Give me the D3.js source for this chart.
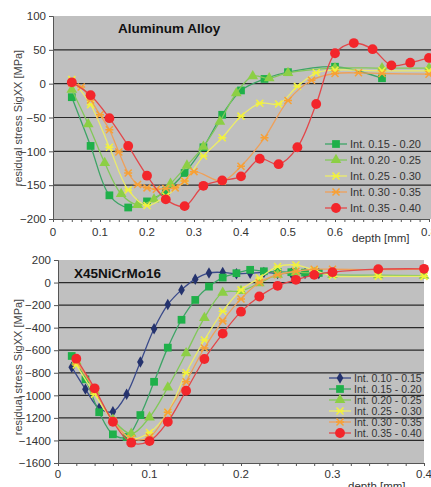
<!DOCTYPE html>
<html>
<head>
<meta charset="utf-8">
<script src="https://cdn.jsdelivr.net/npm/d3@7"></script>
<style>
  body { margin: 0; background: #fff; }
  svg { display: block; font-family: "Liberation Sans", Arial, sans-serif; }
</style>
</head>
<body>
<svg id="chart" width="431" height="487"></svg>
<script>
// ---- Aluminum Alloy (top) ----
var alLabels = ["Int. 0.15 - 0.20", "Int. 0.20 - 0.25", "Int. 0.25 - 0.30", "Int. 0.30 - 0.35", "Int. 0.35 - 0.40"];
var alX15 = [0.04,0.08,0.12,0.16,0.20,0.24,0.28,0.32,0.36,0.40,0.45,0.50,0.60,0.70];
var alY15 = [-20,-92,-165,-183,-174,-159,-132,-94,-46,-10,7,17,25,8];
var alX20 = [0.04,0.075,0.11,0.145,0.18,0.215,0.25,0.285,0.32,0.355,0.39,0.425,0.46,0.50,0.60,0.70,0.80];
var alY20 = [-9,-60,-117,-163,-179,-171,-148,-121,-93,-56,-14,11,8,16,23,23,23];
var alX25 = [0.04,0.08,0.12,0.16,0.20,0.24,0.28,0.32,0.36,0.40,0.44,0.48,0.52,0.56,0.60,0.70,0.80];
var alY25 = [6,-31,-94,-157,-180,-166,-144,-107,-80,-48,-29,-30,-4,16,20,19,19];
var alX30 = [0.04,0.06,0.08,0.10,0.12,0.14,0.16,0.18,0.20,0.22,0.24,0.26,0.28,0.30,0.36,0.40,0.45,0.50,0.55,0.60,0.65,0.70,0.80];
var alY30 = [1,-5,-24,-46,-68,-101,-132,-149,-154,-156,-155,-154,-144,-130,-144,-122,-80,-25,5,15,16,15,14];
var alX35 = [0.04,0.08,0.12,0.16,0.20,0.24,0.28,0.32,0.36,0.40,0.44,0.48,0.52,0.56,0.60,0.64,0.68,0.72,0.76,0.80];
var alY35 = [2,-17,-51,-92,-136,-171,-181,-151,-143,-137,-111,-119,-94,-30,45,60,51,27,31,38];
var alYTicks = [100,50,0,-50,-100,-150,-200];
var alXTicks = [0,0.1,0.2,0.3,0.4,0.5,0.6,0.8];

// ---- X45NiCrMo16 (bottom) ----
var stLabels = ["Int. 0.10 - 0.15", "Int. 0.15 - 0.20", "Int. 0.20 - 0.25", "Int. 0.25 - 0.30", "Int. 0.30 - 0.35", "Int. 0.35 - 0.40"];
var stX10 = [0.015,0.03,0.045,0.06,0.075,0.09,0.105,0.12,0.135,0.15,0.165,0.18,0.195,0.21,0.225,0.24,0.255,0.27,0.285];
var stY10 = [-750,-945,-1115,-1145,-990,-705,-410,-195,-65,30,85,90,78,82,90,80,82,80,80];
var stX15 = [0.015,0.03,0.045,0.06,0.075,0.09,0.105,0.12,0.135,0.15,0.165,0.18,0.195,0.21,0.225,0.24,0.255,0.27,0.285,0.30];
var stY15 = [-651,-858,-1150,-1346,-1370,-1175,-880,-577,-330,-154,-36,44,83,113,100,95,92,88,85,82];
var stX20 = [0.02,0.04,0.06,0.08,0.10,0.12,0.14,0.16,0.18,0.20,0.22,0.24,0.26,0.28,0.30,0.35,0.40];
var stY20 = [-700,-960,-1215,-1340,-1195,-930,-627,-313,-90,-75,-5,70,90,85,70,65,62];
var stX25 = [0.02,0.04,0.06,0.08,0.10,0.12,0.14,0.16,0.18,0.20,0.22,0.24,0.26,0.28,0.30,0.35,0.40];
var stY25 = [-730,-990,-1230,-1385,-1330,-1150,-800,-510,-255,-65,40,142,155,110,60,55,55];
var stX30 = [0.02,0.04,0.06,0.08,0.10,0.12,0.14,0.16,0.18,0.20,0.22,0.24,0.26,0.28,0.30,0.35,0.40];
var stY30 = [-700,-950,-1230,-1385,-1370,-1150,-880,-580,-340,-145,0,70,100,118,118,115,120];
var stX35 = [0.02,0.04,0.06,0.08,0.10,0.12,0.14,0.16,0.18,0.20,0.22,0.24,0.26,0.28,0.30,0.35,0.40];
var stY35 = [-675,-938,-1234,-1420,-1406,-1234,-959,-678,-453,-258,-124,-29,24,68,92,119,122];
var stYTicks = [200,0,-200,-400,-600,-800,-1000,-1200,-1400,-1600];
var stXTicks = [0,0.1,0.2,0.3,0.4];

// series styles (colour + marker)
var sNavy   = { line: "#3a4a8a", fill: "#25336e", mark: "diamond" };
var sGreen  = { line: "#3da466", fill: "#1fb04a", mark: "square" };
var sLime   = { line: "#82c85a", fill: "#8ccf45", mark: "triangle" };
var sYellow = { line: "#ecec6a", fill: "#f2f23c", mark: "star" };
var sOrange = { line: "#eea05a", fill: "#f7a035", mark: "star" };
var sRed    = { line: "#e2474a", fill: "#f3262b", mark: "circle" };

function zip(xs, ys) { return xs.map((x, i) => ({ x: x, y: ys[i] })); }

var svg = d3.select("#chart");

function marker(g, kind, fill) {
  if (kind === "star") {
    g.append("path")
      .attr("d", "M-3.5,-3.5L3.5,3.5M-3.5,3.5L3.5,-3.5M-4,0L4,0")
      .attr("stroke", fill).attr("stroke-width", 1.5).attr("fill", "none");
    return;
  }
  var type = { square: d3.symbolSquare, triangle: d3.symbolTriangle, diamond: d3.symbolDiamond, circle: d3.symbolCircle }[kind];
  var size = { square: 60, triangle: 50, diamond: 38, circle: 76 }[kind];
  g.append("path").attr("d", d3.symbol(type, size)()).attr("fill", fill);
}

function drawChart(cfg) {
  var x = d3.scaleLinear().domain(cfg.xDomain).range(cfg.xRange);
  var y = d3.scaleLinear().domain(cfg.yDomain).range(cfg.yRange);
  var root = svg.append("g");

  // plot background
  root.append("rect")
    .attr("x", cfg.xRange[0]).attr("y", cfg.yRange[1])
    .attr("width", cfg.plotRight - cfg.xRange[0])
    .attr("height", cfg.yRange[0] - cfg.yRange[1])
    .attr("fill", "#c0c0c0");

  // gridlines
  root.selectAll(".grid").data(cfg.yTicks.filter(v => v !== cfg.yDomain[0] && v !== cfg.yDomain[1]))
    .enter().append("line")
    .attr("x1", cfg.xRange[0]).attr("x2", cfg.plotRight)
    .attr("y1", d => y(d)).attr("y2", d => y(d))
    .attr("stroke", "#2a2a2a").attr("stroke-width", 1.2);

  var clipId = "clip" + cfg.id;
  svg.append("clipPath").attr("id", clipId).append("rect")
    .attr("x", cfg.xRange[0]).attr("y", cfg.yRange[1] - 6)
    .attr("width", cfg.plotRight - cfg.xRange[0] + 6)
    .attr("height", cfg.yRange[0] - cfg.yRange[1] + 6);

  var line = d3.line().x(d => x(d.x)).y(d => y(d.y)).curve(d3.curveCatmullRom.alpha(0.5));
  var plot = root.append("g").attr("clip-path", "url(#" + clipId + ")");
  cfg.series.forEach(function (s) {
    var pts = zip(s.xs, s.ys);
    plot.append("path").attr("d", line(pts))
      .attr("fill", "none").attr("stroke", s.style.line).attr("stroke-width", 1.3);
    pts.forEach(function (p) {
      marker(plot.append("g").attr("transform", "translate(" + x(p.x) + "," + y(p.y) + ")"), s.style.mark, s.style.fill);
    });
  });

  // y axis
  root.append("g").attr("transform", "translate(" + cfg.xRange[0] + ",0)")
    .call(d3.axisLeft(y).tickValues(cfg.yTicks).tickSize(4).tickPadding(3).tickFormat(d3.format("d")))
    .call(g => g.select(".domain").attr("stroke", "#555"))
    .call(g => g.selectAll(".tick line").attr("stroke", "#555"))
    .call(g => g.selectAll("text").attr("fill", "#333").attr("font-size", 11.5));

  // x axis: minor ticks every 0.02, labels every 0.1
  var minor = d3.range(cfg.xDomain[0], cfg.xDomain[1] + 0.001, 0.02);
  root.append("g").attr("transform", "translate(0," + cfg.yRange[0] + ")")
    .call(d3.axisBottom(x).tickValues(minor).tickSize(3).tickFormat(""))
    .call(g => g.select(".domain").attr("stroke", "#555"))
    .call(g => g.selectAll(".tick line").attr("stroke", "#555"));
  root.selectAll(".xlab").data(cfg.xTicks).enter().append("text")
    .attr("x", d => x(d)).attr("y", cfg.yRange[0] + cfg.xLabelDy)
    .attr("text-anchor", "middle").attr("font-size", 11.5).attr("fill", "#333")
    .text(d => d === 0 ? "0" : d3.format(".1f")(d));

  root.append("text")
    .attr("x", cfg.depthX).attr("y", cfg.depthY)
    .attr("font-size", 11.5).attr("fill", "#333").text("depth [mm]");

  root.append("text")
    .attr("transform", "translate(" + 22 + "," + cfg.ytitleY + ") rotate(-90)")
    .attr("text-anchor", "middle").attr("font-size", 11).attr("fill", "#444")
    .text("residual stress SigXX  [MPa]");

  root.append("text")
    .attr("x", cfg.titleX).attr("y", cfg.titleY)
    .attr("font-size", 13.5).attr("font-weight", "bold").attr("fill", "#111")
    .text(cfg.title);

  // legend
  var lg = root.append("g");
  cfg.series.forEach(function (s, i) {
    var yy = cfg.legendY + i * cfg.legendStep;
    lg.append("line").attr("x1", cfg.legendX).attr("x2", cfg.legendX + 22)
      .attr("y1", yy).attr("y2", yy).attr("stroke", s.style.line).attr("stroke-width", 1.3);
    marker(lg.append("g").attr("transform", "translate(" + (cfg.legendX + 11) + "," + yy + ")"), s.style.mark, s.style.fill);
    lg.append("text").attr("x", cfg.legendX + 25).attr("y", yy + 4)
      .attr("font-size", cfg.legendFont).attr("fill", "#333").text(s.label);
  });
}

drawChart({
  id: "al", title: "Aluminum Alloy", titleX: 118, titleY: 33,
  xDomain: [0, 0.8], xRange: [53, 429], plotRight: 431,
  yDomain: [-200, 100], yRange: [219, 16],
  yTicks: alYTicks, xTicks: alXTicks, xLabelDy: 17,
  depthX: 352, depthY: 242, ytitleY: 118,
  legendX: 325, legendY: 144, legendStep: 16, legendFont: 11,
  series: [
    { label: alLabels[0], xs: alX15, ys: alY15, style: sGreen },
    { label: alLabels[1], xs: alX20, ys: alY20, style: sLime },
    { label: alLabels[2], xs: alX25, ys: alY25, style: sYellow },
    { label: alLabels[3], xs: alX30, ys: alY30, style: sOrange },
    { label: alLabels[4], xs: alX35, ys: alY35, style: sRed }
  ]
});

drawChart({
  id: "st", title: "X45NiCrMo16", titleX: 74, titleY: 278,
  xDomain: [0, 0.4], xRange: [58, 424], plotRight: 424,
  yDomain: [-1600, 200], yRange: [463, 260],
  yTicks: stYTicks, xTicks: stXTicks, xLabelDy: 15,
  depthX: 348, depthY: 490, ytitleY: 367,
  legendX: 329, legendY: 378, legendStep: 11, legendFont: 10.5,
  series: [
    { label: stLabels[0], xs: stX10, ys: stY10, style: sNavy },
    { label: stLabels[1], xs: stX15, ys: stY15, style: sGreen },
    { label: stLabels[2], xs: stX20, ys: stY20, style: sLime },
    { label: stLabels[3], xs: stX25, ys: stY25, style: sYellow },
    { label: stLabels[4], xs: stX30, ys: stY30, style: sOrange },
    { label: stLabels[5], xs: stX35, ys: stY35, style: sRed }
  ]
});
</script>
</body>
</html>
